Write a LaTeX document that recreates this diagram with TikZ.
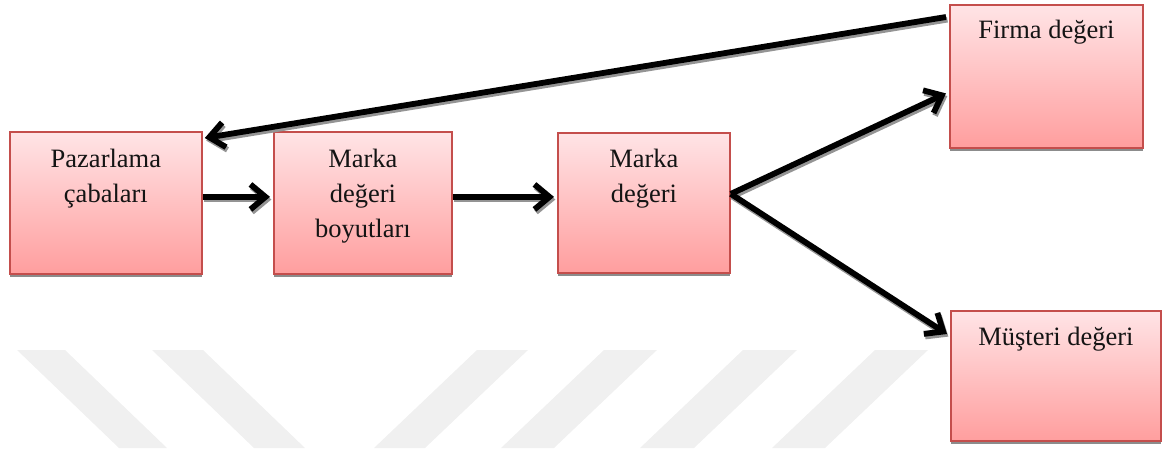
\documentclass[tikz,border=0pt]{standalone}
\usepackage{fontspec}
\setmainfont{Liberation Serif}
\usetikzlibrary{arrows.meta,shadows,calc}

\definecolor{boxtop}{RGB}{255,228,230}
\definecolor{boxbot}{RGB}{255,158,158}
\definecolor{boxline}{RGB}{196,78,76}
\definecolor{wmark}{RGB}{240,240,240}

\tikzset{
  box/.style={draw=boxline, line width=1.8pt, top color=boxtop, bottom color=boxbot,
    rectangle, inner sep=0pt, anchor=north west,
    drop shadow={shadow xshift=0pt, shadow yshift=-3.5pt, fill=black!45, opacity=1}},
  lbl/.style={align=center, inner sep=0pt, anchor=base, text=black!92,
    font=\fontsize{26.5}{35}\selectfont},
  barb/.style={-{Straight Barb[length=15pt, width=25pt, line width=5.8pt]}},
  conn/.style={line width=5.8pt, draw=black, barb},
  connshadow/.style={line width=5.8pt, draw=black!42,
    transform canvas={xshift=1.4pt, yshift=-2.6pt}, barb},
  stripe/.style={fill=wmark, draw=none},
}

\begin{document}
\begin{tikzpicture}[x=1pt, y=-1pt]
  \useasboundingbox (0,0) rectangle (1162,448);

  % faint diagonal stripes along the bottom
  \fill[stripe] (17,350) -- (65,350) -- (167,448) -- (119,448) -- cycle;
  \fill[stripe] (152,350) -- (203,350) -- (305,448) -- (254,448) -- cycle;
  \fill[stripe] (477,350) -- (528,350) -- (425,448) -- (374,448) -- cycle;
  \fill[stripe] (604,350) -- (657,350) -- (554,448) -- (501,448) -- cycle;
  \fill[stripe] (743,350) -- (797,350) -- (694,448) -- (640,448) -- cycle;
  \fill[stripe] (875,350) -- (928,350) -- (825,448) -- (772,448) -- cycle;

  % boxes
  \node[box, minimum width=192, minimum height=142] (pz) at (9,131) {};
  \node[box, minimum width=178, minimum height=142] (by) at (273,131) {};
  \node[box, minimum width=172, minimum height=140] (mk) at (557,132) {};
  \node[box, minimum width=193, minimum height=143] (fi) at (949,4) {};
  \node[box, minimum width=210, minimum height=130] (mu) at (950,310) {};

  % labels (anchored at the baseline of their last line)
  \node[lbl] (pzt) at ($(pz.north)+(0,71)$) {Pazarlama\\çabaları};
  \node[lbl] (byt) at ($(by.north)+(0,106)$) {Marka\\değeri\\boyutları};
  \node[lbl] (mkt) at ($(mk.north)+(0,70)$) {Marka\\değeri};
  \node[lbl] (fit) at ($(fi.north)+(0,34)$) {Firma değeri};
  \node[lbl] (mut) at ($(mu.north)+(0,35)$) {Müşteri değeri};

  % connector end points
  \coordinate (a1s) at ($(fi.north west)+(-3,13)$);
  \coordinate (a1e) at ($(pz.north east)+(2,7)$);
  \coordinate (a2s) at ($(pz.east)+(0,-6)$);
  \coordinate (a2e) at ($(by.west)+(-3,-6)$);
  \coordinate (a3s) at ($(by.east)+(0,-6)$);
  \coordinate (a3e) at ($(mk.west)+(-3,-6)$);
  \coordinate (a4s) at ($(mk.east)+(0,-9)$);
  \coordinate (a4e) at ($(fi.west)+(-3,17)$);
  \coordinate (a5e) at ($(mu.north west)+(-3,24)$);

  % connector shadows
  \draw[connshadow] (a1s) -- (a1e);
  \draw[connshadow] (a2s) -- (a2e);
  \draw[connshadow] (a3s) -- (a3e);
  \draw[connshadow] (a4s) -- (a4e);
  \draw[connshadow] (a4s) -- (a5e);

  % connectors
  \draw[conn] (a1s) -- (a1e);
  \draw[conn] (a2s) -- (a2e);
  \draw[conn] (a3s) -- (a3e);
  \draw[conn] (a4s) -- (a4e);
  \draw[conn] (a4s) -- (a5e);
\end{tikzpicture}
\end{document}
